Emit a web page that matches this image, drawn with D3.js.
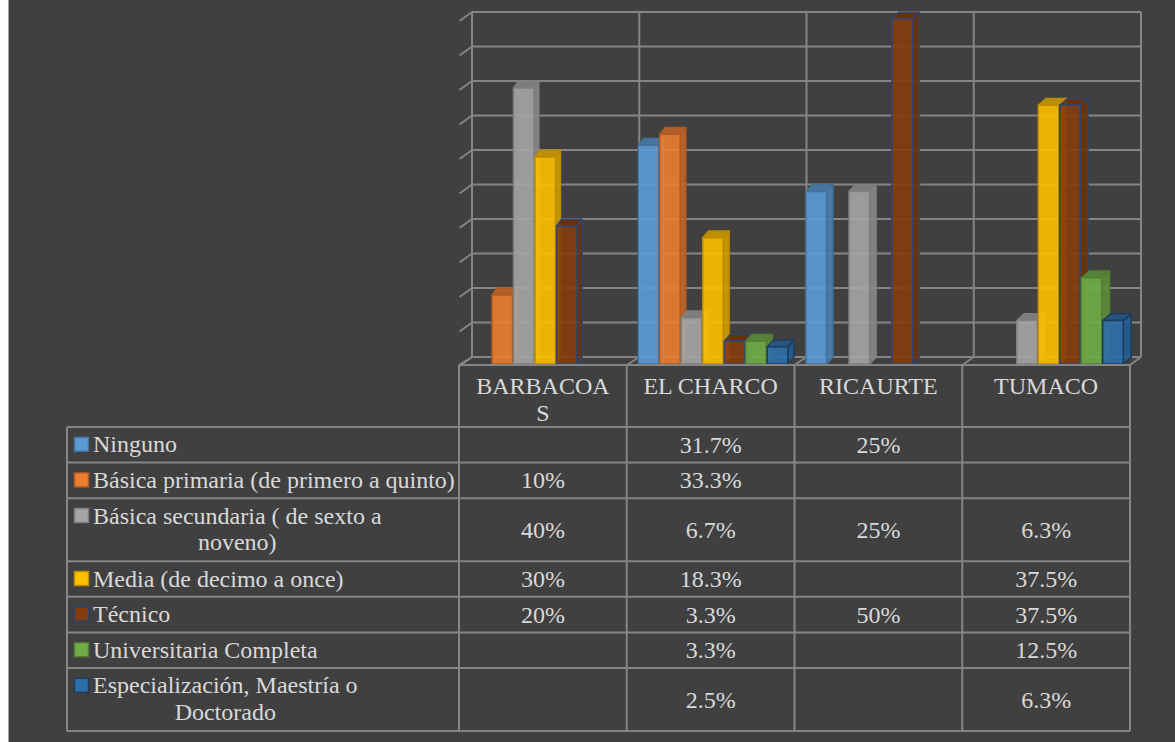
<!DOCTYPE html>
<meta charset="utf-8">
<script src="https://cdn.jsdelivr.net/npm/d3@7"></script>
<style>
  body { margin: 0; background: #fff; }
  svg { display: block; }
</style>
<div id="vis"></div>
<script>
// categories (municipios) and the education levels
const categories = ["BARBACOAS", "EL CHARCO", "RICAURTE", "TUMACO"];
const levels = [
  "Ninguno",
  "Básica primaria (de primero a quinto)",
  "Básica secundaria ( de sexto a noveno)",
  "Media (de decimo a once)",
  "Técnico",
  "Universitaria Completa",
  "Especialización, Maestría o Doctorado"
];
// percent per level, one value per category (null = empty cell)
const ninguno        = [null, 31.7, 25, null];
const basicaPrimaria = [10, 33.3, null, null];
const basicaSecund   = [40, 6.7, 25, 6.3];
const media          = [30, 18.3, null, 37.5];
const tecnico        = [20, 3.3, 50, 37.5];
const universitaria  = [null, 3.3, null, 12.5];
const especializacion = [null, 2.5, null, 6.3];
const yTicks = [0, 5, 10, 15, 20, 25, 30, 35, 40, 45, 50];

const series = [ninguno, basicaPrimaria, basicaSecund, media, tecnico, universitaria, especializacion];
const fills   = ["#5b9bd5", "#ed7d31", "#a5a5a5", "#ffc000", "#843c0c", "#70ad47", "#2e6fab"];
const strokes = ["#41719c", "#ae5a21", "#7f7f7f", "#bc8c00", "#2f4470", "#507e32", "#1f3b5c"];

const W = 1175, H = 742;
const font = "Liberation Serif";
const svg = d3.select("#vis").append("svg").attr("width", W).attr("height", H);

// text helper, serif font set on every element
const label = (x, y, s, anchor) => svg.append("text")
  .attr("x", x).attr("y", y)
  .attr("font-family", font).attr("font-size", 24).attr("fill", "#d9d9d9")
  .attr("text-anchor", anchor || "start").text(s);

// background: thin white strip on the left like the screenshot
svg.append("rect").attr("width", W).attr("height", H).attr("fill", "#fff");
svg.append("rect").attr("x", 9).attr("width", W - 9).attr("height", H).attr("fill", "#404040");
svg.append("line").attr("x1", 8.5).attr("x2", 8.5).attr("y1", 0).attr("y2", H)
  .attr("stroke", "#a6a6a6").attr("stroke-width", 1);

const grid = "#858585";

// scales
const xFront = d3.scaleBand().domain(categories).range([459, 1130]);
const xWall  = d3.scaleBand().domain(categories).range([472, 1141]);
const xSer   = d3.scaleBand().domain(d3.range(levels.length)).range([11.5, 162]);
const yWall  = d3.scaleLinear().domain([0, 50]).range([357, 12]);
const yBar   = d3.scaleLinear().domain([0, 50]).range([364, 19]);
const depth  = d3.scaleLinear().domain([500, 1110]).range([4.7, 8]);  // perspective of bar sides
const depthY = 6.7;

// back wall gridlines
const g = svg.append("g").attr("stroke", grid).attr("stroke-width", 2).attr("fill", "none");
g.selectAll(".h").data(yTicks).join("line")
  .attr("x1", 472).attr("x2", 1141)
  .attr("y1", d => yWall(d)).attr("y2", d => yWall(d));
const wallX = categories.map(c => xWall(c)).concat([xWall.range()[1]]);
const frontX = categories.map(c => xFront(c)).concat([xFront.range()[1]]);
g.selectAll(".v").data(wallX).join("line")
  .attr("x1", d => d).attr("x2", d => d).attr("y1", yWall(50)).attr("y2", yWall(0));
// side wall ticks
g.selectAll(".s").data(yTicks).join("line")
  .attr("x1", 472).attr("y1", d => yWall(d))
  .attr("x2", 459.5).attr("y2", d => yWall(d) + 9);
// floor diagonals
g.selectAll(".f").data(wallX).join("line")
  .attr("x1", d => d).attr("y1", yWall(0))
  .attr("x2", (d, i) => frontX[i]).attr("y2", 365);

// bars
const bars = svg.append("g");
categories.forEach((cat, ci) => {
  series.forEach((vals, si) => {
    const v = vals[ci];
    if (v == null) return;
    const x0 = xFront(cat) + xSer(si);
    const w = xSer.bandwidth() - 1;
    const yt = yBar(v), yb = yBar(0);
    const dx = depth(x0 + w / 2), dy = depthY;
    const base = d3.color(fills[si]);
    const bg = bars.append("g").attr("fill-opacity", 0.9)
      .attr("stroke", strokes[si]).attr("stroke-width", 1.5).attr("stroke-linejoin", "round");
    // side
    bg.append("path")
      .attr("d", `M${x0 + w},${yt}L${x0 + w + dx},${yt - dy}L${x0 + w + dx},${yb - dy}L${x0 + w},${yb}Z`)
      .attr("fill", base.darker(0.55));
    // top
    bg.append("path")
      .attr("d", `M${x0},${yt}L${x0 + dx},${yt - dy}L${x0 + w + dx},${yt - dy}L${x0 + w},${yt}Z`)
      .attr("fill", base.darker(0.65));
    // front
    bg.append("rect").attr("x", x0).attr("y", yt).attr("width", w).attr("height", yb - yt)
      .attr("fill", base);
  });
});

// data table
function wrap(str, maxW, measure) {
  const words = str.split(" ");
  const lines = [];
  let cur = "";
  words.forEach(wd => {
    const test = cur ? cur + " " + wd : wd;
    if (measure(test) <= maxW || !cur) cur = test; else { lines.push(cur); cur = wd; }
  });
  if (cur) lines.push(cur);
  // break single long words by characters
  const out = [];
  lines.forEach(l => {
    if (measure(l) <= maxW) { out.push(l); return; }
    let part = "";
    for (const ch of l) {
      if (measure(part + ch) > maxW && part) { out.push(part); part = ch; } else part += ch;
    }
    if (part) out.push(part);
  });
  return out;
}
const probe = label(-1000, -1000, "");
const measure = s => { probe.text(s); return probe.node().getComputedTextLength(); };

const tableLeft = 67, catTop = 365, catBottom = 427;
const rowLines = levels.map(l => wrap(l, 364, measure));
const rowH = rowLines.map(ls => ls.length > 1 ? 63 : 35.6);
const rowTop = [];
rowLines.reduce((y, ls, i) => { rowTop.push(y); return y + rowH[i]; }, catBottom);
const tableBottom = rowTop[rowTop.length - 1] + rowH[rowH.length - 1];

const t = svg.append("g").attr("stroke", grid).attr("stroke-width", 2);
t.append("line").attr("x1", 459).attr("x2", 1130).attr("y1", catTop).attr("y2", catTop);
t.selectAll(".rh").data(rowTop.concat([tableBottom])).join("line")
  .attr("x1", tableLeft).attr("x2", 1130).attr("y1", d => d).attr("y2", d => d);
t.append("line").attr("x1", tableLeft).attr("x2", tableLeft).attr("y1", catBottom).attr("y2", tableBottom);
t.selectAll(".cv").data(frontX).join("line")
  .attr("x1", d => d).attr("x2", d => d).attr("y1", catTop).attr("y2", tableBottom);

// category headers
categories.forEach(cat => {
  const lines = wrap(cat, 140, measure);
  const cx = xFront(cat) + xFront.bandwidth() / 2;
  lines.forEach((l, i) => label(cx, 394 + i * 27, l, "middle"));
});

// row headers with legend keys
rowLines.forEach((ls, ri) => {
  const widths = ls.map(measure);
  const maxW = d3.max(widths);
  const base = rowTop[ri] + 25.3;
  svg.append("rect").attr("x", 74.5).attr("y", base - 15).attr("width", 14).attr("height", 14)
    .attr("fill", fills[ri]).attr("stroke", strokes[ri]).attr("stroke-width", 1.5);
  ls.forEach((l, li) => {
    label(93 + (ls.length > 1 ? (maxW - widths[li]) / 2 : 0), base + li * 26.7, l);
  });
  // values
  series[ri].forEach((v, ci) => {
    if (v == null) return;
    label(xFront(categories[ci]) + xFront.bandwidth() / 2, rowTop[ri] + rowH[ri] / 2 + 8, v + "%", "middle");
  });
});
probe.remove();
</script>
